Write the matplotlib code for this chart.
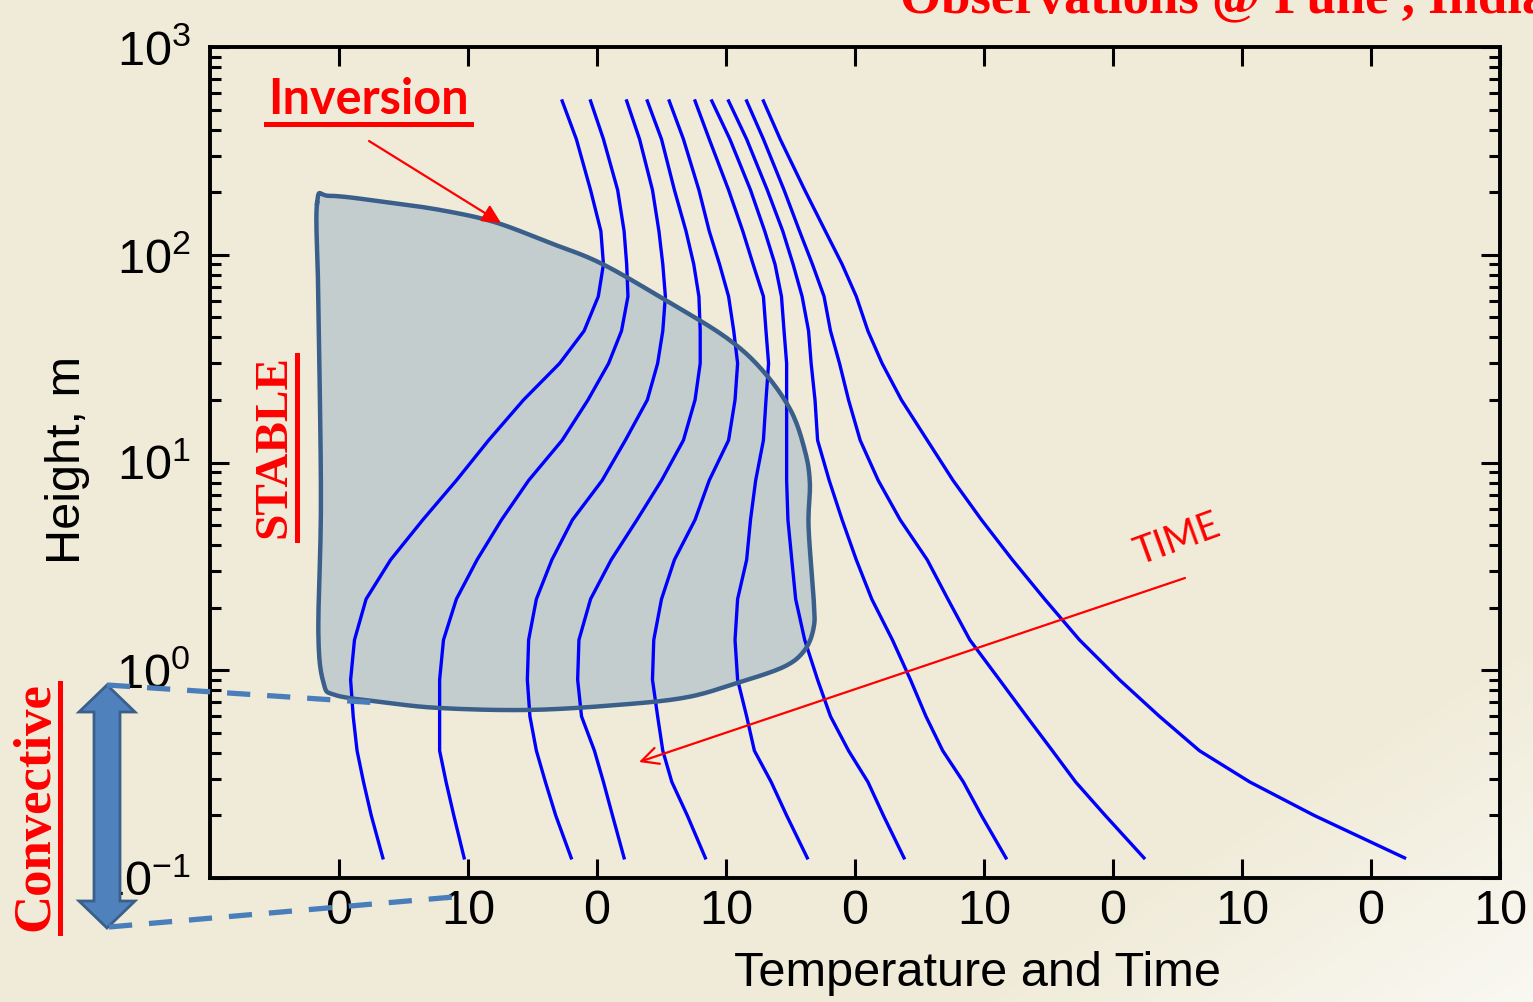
import numpy as np
import matplotlib
matplotlib.use("Agg")
import matplotlib.pyplot as plt
from matplotlib.patches import Polygon
from matplotlib.lines import Line2D

plt.rcParams['font.family'] = ['Liberation Sans', 'DejaVu Sans']

# === DATA: temperature profiles (offset per time step) at fixed heights ===
heights = [550, 360, 205, 130, 90, 63, 43, 30, 20, 12.8, 8.2, 5.3, 3.4,
           2.2, 1.4, 0.9, 0.6, 0.41, 0.29, 0.2, 0.125]

t01 = [17.3, 18.4, 19.5, 20.3, 20.5, 20.1, 19.0, 17.1, 14.3, 11.6, 9.1, 6.5, 4.0,
       2.1, 1.2, 0.9, 1.1, 1.4, 1.9, 2.5, 3.4]
t02 = [19.5, 20.5, 21.6, 22.1, 22.3, 22.4, 21.9, 20.9, 19.3, 17.3, 14.7, 12.6, 10.7,
       9.1, 8.1, 7.8, 7.8, 7.8, 8.3, 8.9, 9.7]
t03 = [22.3, 23.3, 24.3, 24.8, 25.1, 25.3, 25.1, 24.7, 23.9, 22.2, 20.4, 18.1, 16.5,
       15.3, 14.7, 14.6, 14.8, 15.3, 16.0, 16.8, 18.0]
t04 = [23.9, 25.0, 26.0, 26.9, 27.5, 27.9, 28.0, 28.0, 27.6, 26.7, 25.0, 23.1, 21.1,
       19.5, 18.6, 18.5, 18.8, 19.8, 20.5, 21.2, 22.1]
t05 = [25.6, 26.7, 27.9, 28.7, 29.5, 30.2, 30.6, 30.9, 30.7, 30.2, 28.7, 27.6, 26.0,
       25.0, 24.4, 24.3, 24.7, 25.1, 25.8, 27.0, 28.4]
t06 = [27.6, 28.7, 30.2, 31.3, 32.1, 32.9, 33.1, 33.3, 33.1, 32.9, 32.3, 31.9, 31.6,
       30.9, 30.7, 30.9, 31.6, 32.2, 33.5, 34.7, 36.3]
t07 = [28.9, 30.3, 31.9, 33.0, 33.8, 34.3, 34.5, 34.7, 34.7, 34.7, 34.7, 34.8, 35.1,
       35.4, 36.1, 37.1, 38.1, 39.5, 41.0, 42.2, 43.8]
t08 = [30.2, 31.6, 33.2, 34.4, 35.2, 35.9, 36.4, 36.6, 36.9, 37.1, 38.0, 39.0, 40.1,
       41.3, 42.9, 44.3, 45.5, 46.8, 48.4, 49.8, 51.7]
t09 = [31.6, 32.9, 34.5, 35.7, 36.7, 37.6, 38.1, 38.8, 39.5, 40.4, 41.8, 43.5, 45.6,
       47.2, 48.9, 51.2, 53.3, 55.3, 57.1, 59.4, 62.4]
t10 = [32.9, 34.2, 36.1, 37.7, 39.0, 40.1, 41.0, 42.1, 43.6, 45.6, 47.6, 49.8, 52.2,
       54.7, 57.4, 60.5, 63.6, 66.7, 70.6, 75.6, 82.6]
profiles = [t01, t02, t03, t04, t05, t06, t07, t08, t09, t10]

# outline of the inversion (stable) region
inv_x = [-1.7, -0.7, 3.7, 7.9, 12.0, 16.2, 20.3, 25.3, 30.0, 32.8, 35.0, 36.1, 36.5,
         36.4, 36.8, 36.8, 36.1, 34.5, 30.9, 26.9, 21.5, 14.7, 7.8, 3.3, -0.3, -1.2,
         -1.6, -1.4, -1.6]
inv_h = [177, 192, 179, 164, 144, 115, 91, 60.5, 40, 27.9, 17.9, 11.5, 8.0,
         4.9, 2.18, 1.61, 1.25, 1.04, 0.87, 0.74, 0.68, 0.644, 0.658, 0.703, 0.76, 0.87,
         1.51, 6.6, 60.5]

xtick_pos = [0, 10, 20, 30, 40, 50, 60, 70, 80, 90]
xtick_labels = ['0', '10'] * 5


def smooth_closed(xs, ys, n=12):
    # closed Catmull-Rom curve through the outline points
    pts = np.column_stack([xs, ys])
    m = len(pts)
    out = []
    for i in range(m):
        p0, p1, p2, p3 = pts[i - 1], pts[i], pts[(i + 1) % m], pts[(i + 2) % m]
        for t in np.linspace(0, 1, n, endpoint=False):
            out.append(0.5 * (2 * p1 + (-p0 + p2) * t
                              + (2 * p0 - 5 * p1 + 4 * p2 - p3) * t ** 2
                              + (-p0 + 3 * p1 - 3 * p2 + p3) * t ** 3))
    out = np.array(out + [out[0]])
    return out[:, 0], out[:, 1]


W, H = 1533, 1002


def fxy(x, y):
    return x / W, 1 - y / H


fig = plt.figure(figsize=(W / 100, H / 100), dpi=100)

# background with a light corner
bg = fig.add_axes([0, 0, 1, 1], zorder=-5)
gx, gy = np.meshgrid(np.linspace(0, 1, 400), np.linspace(0, 1, 260))
tt = np.clip((gx + gy - 1.62) / 0.38, 0, 1)
base = np.array([240, 235, 216]) / 255
light = np.array([249, 248, 242]) / 255
bg.imshow(base + tt[..., None] * (light - base), aspect='auto', extent=[0, 1, 0, 1],
          origin='upper')
bg.axis('off')

ax = fig.add_axes([210 / W, 1 - 878 / H, 1290 / W, 831 / H])
ax.patch.set_alpha(0)
ax.set_yscale('log')
ax.set_xlim(-10, 90)
ax.set_ylim(0.1, 1000)

# inversion region
sx, sy = smooth_closed(inv_x, np.log10(inv_h))
ax.fill(sx, 10 ** sy, facecolor='#C4CDCE', edgecolor='none', zorder=1)
ax.plot(sx, 10 ** sy, color='#3A5F8B', lw=3.2, zorder=4)

for prof in profiles:
    ax.plot(prof, heights, color='#0000FF', lw=2.4, zorder=3, solid_joinstyle='round')

ax.set_xticks(xtick_pos)
ax.set_xticklabels(xtick_labels)
ax.tick_params(which='both', direction='in', top=True, right=True, width=2.2,
               labelsize=35)
ax.tick_params(which='major', length=14)
ax.tick_params(which='minor', length=8)
ax.tick_params(axis='x', pad=8)
ax.tick_params(axis='y', pad=14)
for sp in ax.spines.values():
    sp.set_linewidth(2.8)

fig.text(*fxy(978, 973), 'Temperature and Time', fontsize=35, ha='center', va='center')
fig.text(*fxy(68, 460), 'Height, m', fontsize=35, rotation=90, ha='center', va='center')

# title (runs off the top edge)
fig.text(*fxy(900, 12), 'Observations @ Pune , India', fontsize=38, color='red',
         family='Liberation Serif', fontweight='bold', ha='left', va='baseline')

# Inversion label with arrow
fig.text(*fxy(368, 100), 'Inversion', fontsize=35, color='red', family='Lato',
         fontweight='bold', ha='center', va='center')
fig.add_artist(Line2D([266 / W, 471 / W], [1 - 123.5 / H] * 2, color='red', lw=3.6))
fig.add_artist(plt.Annotation('', xy=fxy(501, 223), xytext=fxy(369, 141),
                              xycoords='figure fraction', textcoords='figure fraction',
                              arrowprops=dict(arrowstyle='-|>', color='red', lw=1.6,
                                              mutation_scale=28, shrinkA=0, shrinkB=0)))

# STABLE label
fig.text(*fxy(274, 447), 'STABLE', fontsize=34, color='red', family='Liberation Serif',
         fontweight='bold', rotation=90, ha='center', va='center')
fig.add_artist(Line2D([297 / W] * 2, [1 - 355 / H, 1 - 540 / H], color='red', lw=3.6))

# Convective label
fig.text(*fxy(35, 807), 'Convective', fontsize=38, color='red', family='Liberation Serif',
         fontweight='bold', rotation=90, ha='center', va='center')
fig.add_artist(Line2D([60 / W] * 2, [1 - 683 / H, 1 - 933 / H], color='red', lw=3.6))

# TIME arrow
fig.text(*fxy(1177, 540), 'TIME', fontsize=27, color='red', family='Lato',
         rotation=20, ha='center', va='center')
fig.add_artist(plt.Annotation('', xy=fxy(639, 762), xytext=fxy(1185, 578),
                              xycoords='figure fraction', textcoords='figure fraction',
                              arrowprops=dict(arrowstyle='->', color='red', lw=1.6,
                                              mutation_scale=30, shrinkA=0, shrinkB=0)))

# convective layer: double arrow and dashed guides
arrow_px = [(107, 685), (135, 712), (120, 712), (120, 901), (135, 901), (107, 928),
            (79, 901), (94, 901), (94, 712), (79, 712)]
fig.add_artist(Polygon([fxy(x, y) for x, y in arrow_px], closed=True,
                       facecolor='#4F81BD', edgecolor='#3A5F8B', lw=2,
                       transform=fig.transFigure))
for (x0, y0), (x1, y1) in [((107, 685), (380, 703)), ((109, 927), (465, 896))]:
    fig.add_artist(Line2D([x0 / W, x1 / W], [1 - y0 / H, 1 - y1 / H], color='#4A7EBB',
                          lw=3.8, linestyle=(0, (4.4, 3.2)), zorder=5))

fig.savefig('out.png', dpi=100)
